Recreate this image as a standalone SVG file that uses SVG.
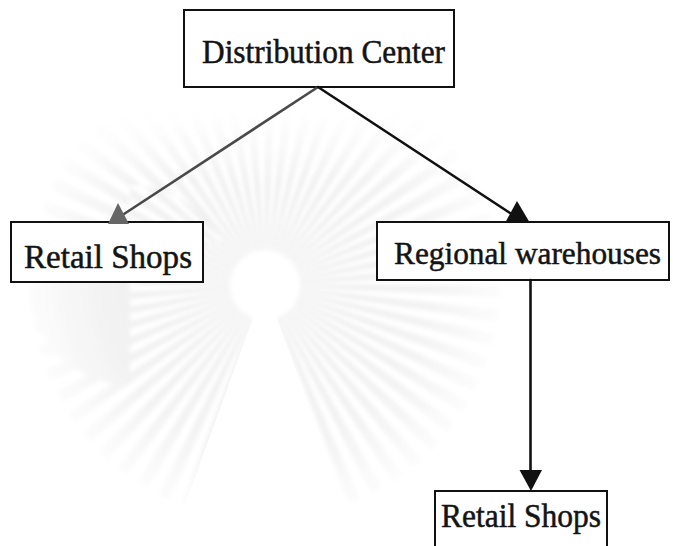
<svg xmlns="http://www.w3.org/2000/svg" width="673" height="546" viewBox="0 0 673 546">
  <style>
    .box { fill: #ffffff; stroke: #111111; stroke-width: 2; }
    .label { font-family: "Liberation Serif", "Times New Roman", "DejaVu Serif", serif; font-size: 33px; fill: #141414; stroke: #141414; stroke-width: 0.5; }
    .label.wide { font-size: 31.5px; }
    .edge { fill: none; stroke-width: 2.6; stroke-linecap: round; }
    .head { stroke: none; }
  </style>
  <defs>
    <radialGradient id="rayFade" gradientUnits="userSpaceOnUse" cx="265" cy="285" r="240">
      <stop offset="0.2" stop-color="#ececec"/>
      <stop offset="0.7" stop-color="#f3f3f3"/>
      <stop offset="1" stop-color="#fdfdfd"/>
    </radialGradient>
    <linearGradient id="topFade" gradientUnits="userSpaceOnUse" x1="0" y1="110" x2="0" y2="180">
      <stop offset="0" stop-color="#000000"/>
      <stop offset="1" stop-color="#ffffff"/>
    </linearGradient>
    <filter id="soft" filterUnits="userSpaceOnUse" x="0" y="0" width="673" height="546">
      <feGaussianBlur stdDeviation="2.2"/>
    </filter>
    <mask id="rayMask" maskUnits="userSpaceOnUse" x="0" y="0" width="673" height="546">
      <rect x="0" y="0" width="673" height="546" fill="url(#topFade)"/>
      <polygon points="265,285 170,546 360,546" fill="#000000"/>
    </mask>
  </defs>

  <!-- faint sunburst emblem in the background -->
  <g id="emblem" mask="url(#rayMask)">
    <circle cx="265" cy="285" r="135" fill="none" stroke="url(#rayFade)" stroke-width="200"
            pathLength="360" stroke-dasharray="3 3" filter="url(#soft)"/>
  </g>

  <!-- nodes -->
  <g id="node-distribution-center">
    <rect class="box" x="184" y="10" width="270" height="77"/>
    <text class="label" x="202" y="63" textLength="243" lengthAdjust="spacingAndGlyphs">Distribution Center</text>
  </g>
  <g id="node-retail-shops-1">
    <rect class="box" x="11" y="222" width="192" height="60"/>
    <text class="label" x="24" y="268" textLength="168" lengthAdjust="spacingAndGlyphs">Retail Shops</text>
  </g>
  <g id="node-regional-warehouses">
    <rect class="box" x="377" y="222" width="292" height="58"/>
    <text class="label wide" x="394" y="264" textLength="267" lengthAdjust="spacingAndGlyphs">Regional warehouses</text>
  </g>
  <g id="node-retail-shops-2">
    <rect class="box" x="435" y="491" width="172" height="70"/>
    <text class="label" x="441" y="527" textLength="160" lengthAdjust="spacingAndGlyphs">Retail Shops</text>
  </g>

  <!-- connectors -->
  <g id="connectors">
    <line class="edge" x1="318" y1="87" x2="124" y2="214" stroke="#4a4a4a"/>
    <polygon class="head" points="118,203 108,224 129,224" fill="#666666"/>

    <line class="edge" x1="318" y1="87" x2="510" y2="213" stroke="#111111"/>
    <polygon class="head" points="517,201 505,223 530,223" fill="#111111"/>

    <line class="edge" x1="530.5" y1="280" x2="530.5" y2="472" stroke="#111111"/>
    <polygon class="head" points="519.5,470 542,470 531,491" fill="#111111"/>
  </g>
</svg>
